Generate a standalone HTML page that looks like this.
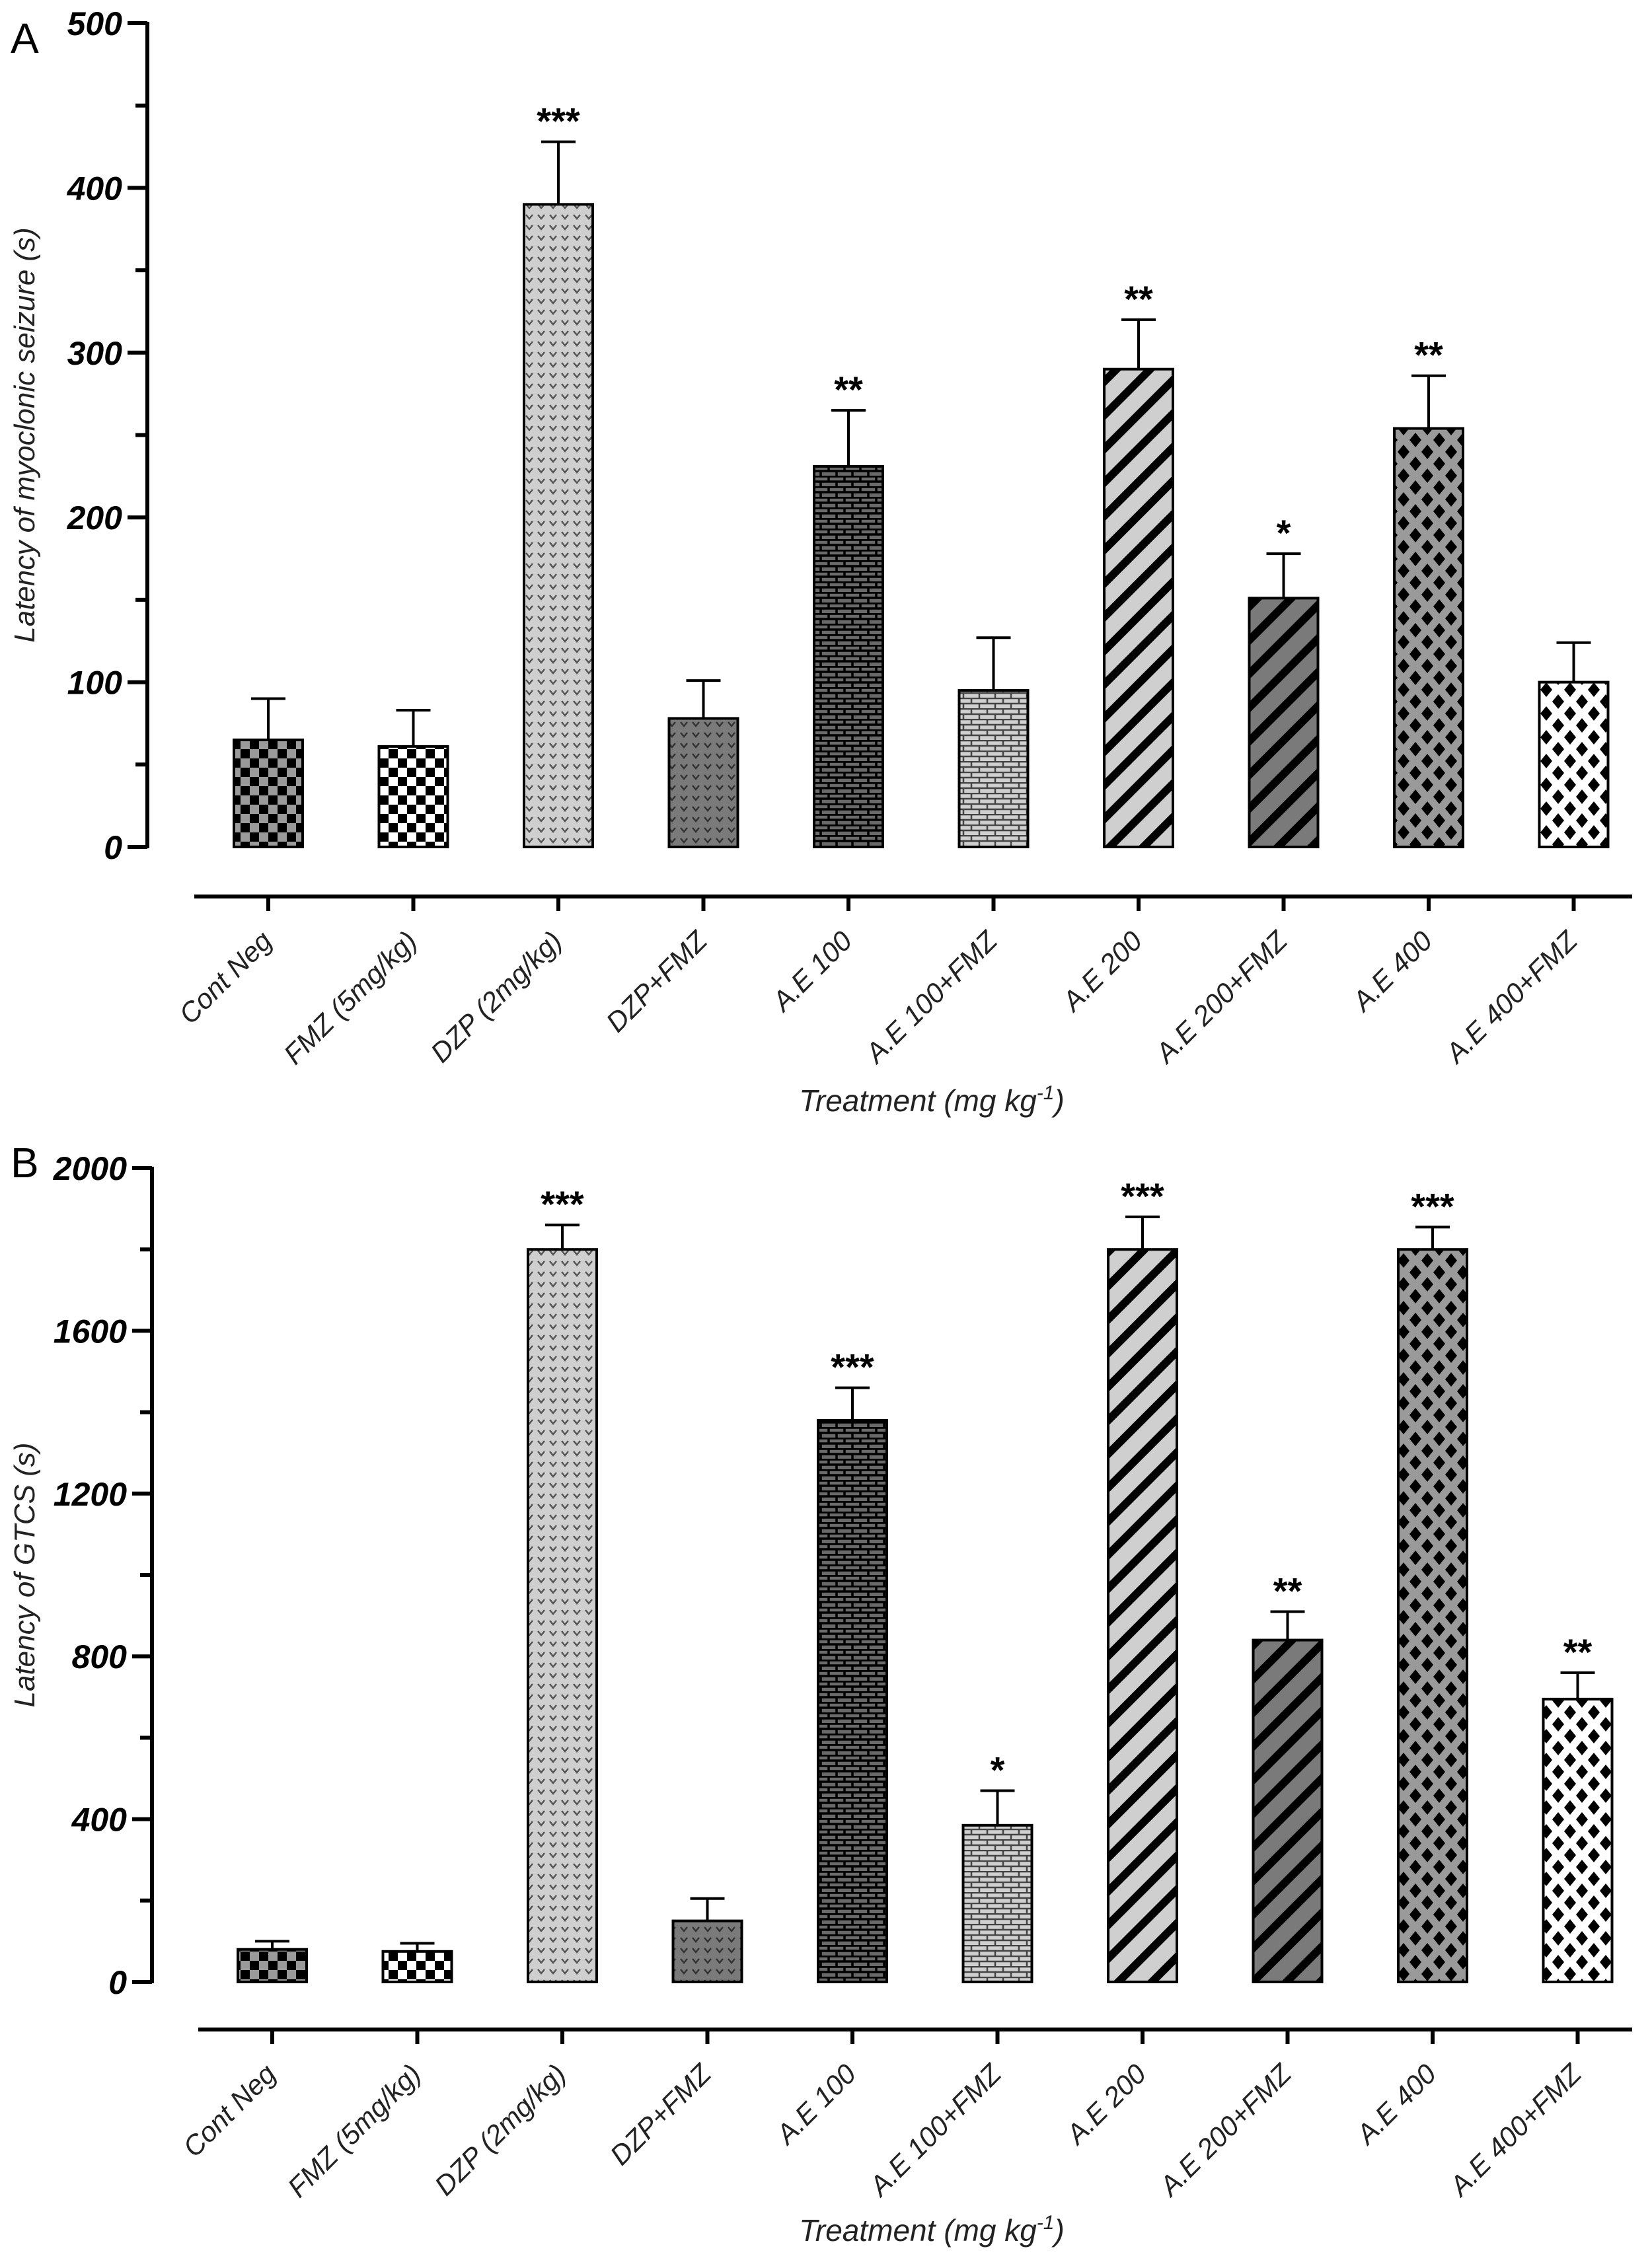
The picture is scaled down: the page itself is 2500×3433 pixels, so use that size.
<!DOCTYPE html>
<html><head><meta charset="utf-8"><style>
html,body{margin:0;padding:0;background:#fff}
svg{display:block}
text{font-family:"Liberation Sans",Arial,sans-serif}
</style></head><body>
<svg id="chart" width="2500" height="3433" viewBox="0 0 2500 3433" xmlns="http://www.w3.org/2000/svg">
<defs>
<pattern id="p0" patternUnits="userSpaceOnUse" width="28" height="28"><rect width="28" height="28" fill="#000"/><rect width="14" height="14" fill="#9a9a9a"/><rect x="14" y="14" width="14" height="14" fill="#9a9a9a"/></pattern>
<pattern id="p1" patternUnits="userSpaceOnUse" width="28" height="28"><rect width="28" height="28" fill="#000"/><rect width="14" height="14" fill="#fff"/><rect x="14" y="14" width="14" height="14" fill="#fff"/></pattern>
<pattern id="p2" patternUnits="userSpaceOnUse" width="18" height="16"><rect width="18" height="16" fill="#cfcfcf"/><path d="M4 5 L9 11 L14 5" stroke="#555" stroke-width="2.5" fill="none"/></pattern>
<pattern id="p3" patternUnits="userSpaceOnUse" width="18" height="16"><rect width="18" height="16" fill="#7a7a7a"/><path d="M4 5 L9 11 L14 5" stroke="#333" stroke-width="2.5" fill="none"/></pattern>
<pattern id="p4" patternUnits="userSpaceOnUse" width="24" height="16"><rect width="24" height="16" fill="#6a6a6a"/><path d="M0 1 H24 M0 9 H24 M6 1 V9 M18 9 V16" stroke="#000" stroke-width="3.5"/></pattern>
<pattern id="p5" patternUnits="userSpaceOnUse" width="24" height="16"><rect width="24" height="16" fill="#cfcfcf"/><path d="M0 1 H24 M0 9 H24 M6 1 V9 M18 9 V16" stroke="#444" stroke-width="2.5"/></pattern>
<pattern id="p6" patternUnits="userSpaceOnUse" width="36" height="36" patternTransform="rotate(45)"><rect width="36" height="36" fill="#cfcfcf"/><rect width="12" height="36" fill="#000"/></pattern>
<pattern id="p7" patternUnits="userSpaceOnUse" width="36" height="36" patternTransform="rotate(45)"><rect width="36" height="36" fill="#7a7a7a"/><rect width="12" height="36" fill="#000"/></pattern>
<pattern id="p8" patternUnits="userSpaceOnUse" width="36" height="36"><rect width="36" height="36" fill="#9a9a9a"/><path d="M18 7 L27 18 L18 29 L9 18Z M0 -11 L9 0 L0 11 L-9 0Z M36 -11 L45 0 L36 11 L27 0Z M0 25 L9 36 L0 47 L-9 36Z M36 25 L45 36 L36 47 L27 36Z" fill="#000"/></pattern>
<pattern id="p9" patternUnits="userSpaceOnUse" width="36" height="36"><rect width="36" height="36" fill="#fff"/><path d="M18 7 L27 18 L18 29 L9 18Z M0 -11 L9 0 L0 11 L-9 0Z M36 -11 L45 0 L36 11 L27 0Z M0 25 L9 36 L0 47 L-9 36Z M36 25 L45 36 L36 47 L27 36Z" fill="#000"/></pattern>
</defs>
</svg>
<script>
const categories = ["Cont Neg","FMZ (5mg/kg)","DZP (2mg/kg)","DZP+FMZ","A.E 100","A.E 100+FMZ","A.E 200","A.E 200+FMZ","A.E 400","A.E 400+FMZ"];
const valuesA = [65,61,390,78,231,95,290,151,254,100];
const errTopA = [90,83,428,101,265,127,320,178,286,124];
const starsA = ["","","***","","**","","**","*","**",""];
const ticksA = [0,100,200,300,400,500];
const valuesB = [80,75,1800,150,1380,385,1800,840,1800,695];
const errTopB = [100,95,1860,205,1460,470,1880,910,1855,760];
const starsB = ["","","***","","***","*","***","**","***","**"];
const ticksB = [0,400,800,1200,1600,2000];

const NS="http://www.w3.org/2000/svg";
const svg=document.getElementById('chart');
function mk(tag,attrs,parent,txt){const e=document.createElementNS(NS,tag);for(const k in attrs)e.setAttribute(k,attrs[k]);if(txt!==undefined)e.textContent=txt;(parent||svg).appendChild(e);return e;}

function panel(cfg){
  const g=mk('g',{});
  
  
  const yMax=cfg.ticks[cfg.ticks.length-1];
  const y=v=>cfg.y0-(v/yMax)*(cfg.y0-cfg.yTop);
  const x=i=>cfg.x0+i*219.5;
  const lab=mk('text',{x:cfg.letterX,y:cfg.letterY,'font-size':64},g,cfg.letter);
  
  
  const ya=mk('line',{x1:cfg.ax,y1:y(yMax)-2,x2:cfg.ax,y2:y(0)+2,stroke:'#000','stroke-width':6},g);
  
  
  cfg.ticks.forEach((t,k)=>{
    mk('line',{x1:cfg.ax-30,y1:y(t),x2:cfg.ax,y2:y(t),stroke:'#000','stroke-width':6},g);
    const tl=mk('text',{x:cfg.ax-38,y:y(t)+18,'font-size':50,'font-weight':'bold','font-style':'italic','text-anchor':'end'},g,String(t));
    
    
    if(k<cfg.ticks.length-1){const m=(t+cfg.ticks[k+1])/2;mk('line',{x1:cfg.ax-18,y1:y(m),x2:cfg.ax,y2:y(m),stroke:'#000','stroke-width':6},g);}
  });
  const yt=mk('text',{x:0,y:0,'font-size':44,'font-style':'italic','text-anchor':'middle',transform:`translate(52,${(y(0)+y(yMax))/2}) rotate(-90)`,fill:'#222'},g,cfg.yTitle);
  
  
  const xa=mk('line',{x1:cfg.x0-112,y1:cfg.xAxisY,x2:2470,y2:cfg.xAxisY,stroke:'#000','stroke-width':6},g);
  
  
  categories.forEach((c,i)=>{
    const cx=x(i);
    mk('line',{x1:cx,y1:cfg.xAxisY,x2:cx,y2:cfg.xAxisY+22,stroke:'#000','stroke-width':6},g);
    const t=mk('text',{x:0,y:0,'font-size':42,'font-style':'italic','text-anchor':'end',fill:'#222',transform:`translate(${cx+8},${cfg.xAxisY+70}) rotate(-45)`},g,c);
    
    
    const v=cfg.values[i];
    const b=mk('rect',{x:cx-52,y:y(v),width:104,height:y(0)-y(v),fill:`url(#p${i})`,stroke:'#000','stroke-width':4},g);
    
    
    const et=y(cfg.err[i]);
    const e=mk('path',{d:`M${cx} ${y(v)} V${et} M${cx-26} ${et} H${cx+26}`,stroke:'#000','stroke-width':4,fill:'none'},g);
    
    
    if(cfg.stars[i]){
      const s=mk('text',{x:cx,y:et-12,'font-size':56,'font-weight':'bold','text-anchor':'middle'},g,cfg.stars[i]);
      
      
    }
  });
  const xt=mk('text',{x:1410,y:cfg.xTitleY,'font-size':46,'font-style':'italic','text-anchor':'middle',fill:'#222'},g);
  
  
  mk('tspan',{},xt,'Treatment (mg kg');
  mk('tspan',{'font-size':30,dy:-18},xt,'-1');
  mk('tspan',{dy:18},xt,')');
}
panel({name:'panel-a',letter:'A',letterX:16,letterY:80,ax:223,yTop:35,y0:1282,x0:406,xAxisY:1357,xTitleY:1682,values:valuesA,err:errTopA,stars:starsA,ticks:ticksA,yTitle:'Latency of myoclonic seizure (s)'});
panel({name:'panel-b',letter:'B',letterX:16,letterY:1782,ax:230,yTop:1768,y0:3000,x0:412,xAxisY:3072,xTitleY:3392,values:valuesB,err:errTopB,stars:starsB,ticks:ticksB,yTitle:'Latency of GTCS (s)'});
</script>
</body></html>
